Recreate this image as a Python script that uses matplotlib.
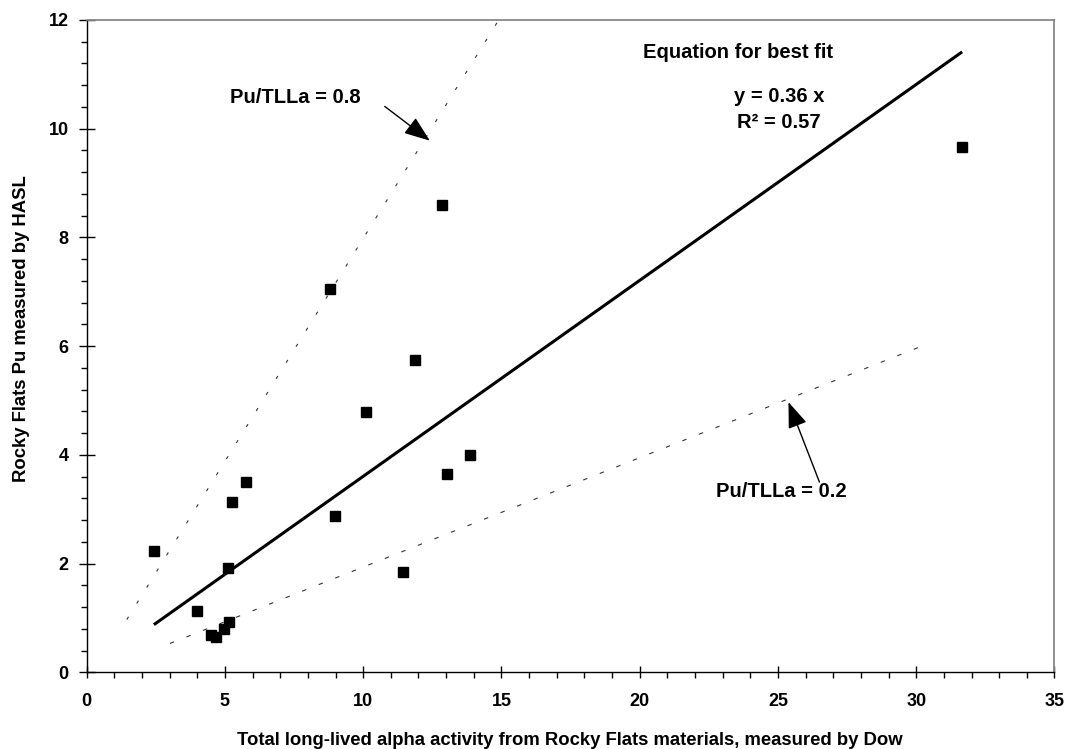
# Rocky Flats: HASL Pu vs Dow total long-lived alpha, with best fit and ratio lines
import matplotlib
matplotlib.use("Agg")
import matplotlib.pyplot as plt
from matplotlib.ticker import MultipleLocator

plt.rcParams['font.family'] = ['Liberation Sans', 'DejaVu Sans']
plt.rcParams['font.weight'] = 'bold'

# measured samples (x = Dow TLLa, y = HASL Pu)
dow_tlla = [2.44, 4.00, 4.48, 4.67, 4.96, 5.12, 5.15, 5.26, 5.76, 8.79,
            8.98, 10.10, 11.44, 11.88, 12.84, 13.04, 13.87, 31.66]
hasl_pu = [2.23, 1.12, 0.68, 0.65, 0.79, 1.92, 0.92, 3.13, 3.50, 7.05,
           2.88, 4.79, 1.85, 5.74, 8.59, 3.65, 4.00, 9.67]

# best fit through origin
fit_slope = 0.3605
fit_x = [2.43, 31.66]

# drawn ratio guide lines
ratio_08_x = [1.45, 14.90]
ratio_08_y = [0.97, 12.00]
ratio_02_x = [3.01, 30.20]
ratio_02_y = [0.53, 6.00]

x_ticks = [0, 5, 10, 15, 20, 25, 30, 35]
y_ticks = [0, 2, 4, 6, 8, 10, 12]

fig = plt.figure(figsize=(10.66, 7.49), dpi=100)
ax = fig.add_axes([0.0813, 0.1024, 0.9079, 0.8709])

ax.plot(ratio_08_x, ratio_08_y, color='#333333', lw=0.8,
        linestyle=(0, (3, 14)))
ax.plot(ratio_02_x, ratio_02_y, color='#333333', lw=0.8,
        linestyle=(0, (4, 12)))
ax.plot(fit_x, [fit_slope * v for v in fit_x], color='black', lw=2.2,
        solid_capstyle='butt')
ax.plot(dow_tlla, hasl_pu, linestyle='none', marker='s', markersize=7,
        color='black')

ax.set_xlim(0, 35)
ax.set_ylim(0, 12)
ax.set_xticks(x_ticks)
ax.set_yticks(y_ticks)
ax.xaxis.set_minor_locator(MultipleLocator(1))
ax.yaxis.set_minor_locator(MultipleLocator(0.4))

ax.tick_params(axis='both', which='major', direction='inout', width=1,
               labelsize=13, color='black')
ax.tick_params(axis='x', which='major', length=8.5, pad=11)
ax.tick_params(axis='y', which='major', length=12, pad=7)
ax.tick_params(axis='both', which='minor', direction='out', length=4.3,
               width=1, color='black')

for side in ['left', 'bottom']:
    ax.spines[side].set_color('black')
    ax.spines[side].set_linewidth(1.0)
for side in ['top', 'right']:
    ax.spines[side].set_color('#888888')
    ax.spines[side].set_linewidth(1.3)

fig.text(0.0197, 0.5607, 'Rocky Flats Pu measured by HASL', rotation=90,
         ha='center', va='center', fontsize=13.3)
fig.text(0.535, 0.0053,
         'Total long-lived alpha activity from Rocky Flats materials, measured by Dow',
         ha='center', va='baseline', fontsize=13.3)

ax.text(23.57, 11.40, 'Equation for best fit', ha='center', va='center',
        fontsize=14.5)
ax.text(25.06, 10.59, 'y = 0.36 x', ha='center', va='center', fontsize=14.5)
ax.text(25.02, 10.12, 'R\u00b2 = 0.57', ha='center', va='center',
        fontsize=14.5)
ax.text(7.56, 10.57, 'Pu/TLLa = 0.8', ha='center', va='center', fontsize=14.5)
ax.text(25.12, 3.33, 'Pu/TLLa = 0.2', ha='center', va='center', fontsize=14.5)

arrow = dict(arrowstyle='-|>,head_length=0.8,head_width=0.3',
             mutation_scale=20, lw=1, color='black', shrinkA=0, shrinkB=0)
ax.annotate('', xy=(12.41, 9.78), xytext=(10.78, 10.41), arrowprops=arrow)
ax.annotate('', xy=(25.38, 4.97), xytext=(26.50, 3.50), arrowprops=arrow)

fig.savefig('out.png', dpi=100)
